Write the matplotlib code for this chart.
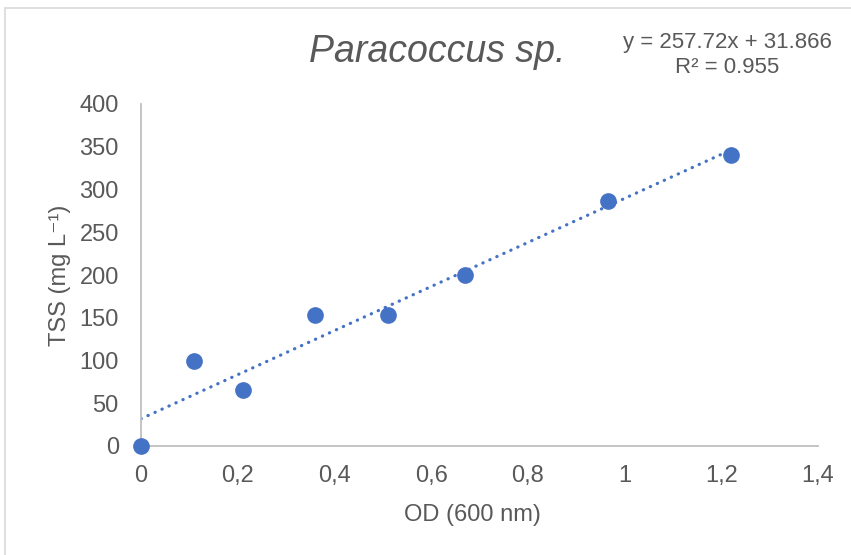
import numpy as np
import matplotlib
matplotlib.use("Agg")
import matplotlib.pyplot as plt
from matplotlib.patches import Rectangle
from matplotlib.ticker import FuncFormatter

plt.rcParams['font.family'] = ['Liberation Sans', 'DejaVu Sans']

# data
od = [0.0, 0.11, 0.21, 0.36, 0.51, 0.67, 0.965, 1.22]
tss = [0, 100, 66, 153, 153, 200, 287, 340]
slope, intercept = 257.72, 31.866
r2 = 0.955

blue = '#4472C4'
grey = '#595959'

fig = plt.figure(figsize=(8.51, 5.55), dpi=100)
ax = fig.add_axes([141 / 851, 1 - 446 / 555, 677 / 851, 342 / 555])

# trendline
xt = np.array([0.0, max(od)])
ax.plot(xt, slope * xt + intercept, color=blue, lw=2.3,
        linestyle=(0, (0.1, 2.3)), dash_capstyle='round', zorder=2)
ax.plot(od, tss, 'o', color=blue, ms=11, zorder=3, clip_on=False)

ax.set_xlim(0, 1.4)
ax.set_ylim(0, 400)
ax.set_xticks(np.arange(0, 1.41, 0.2))
ax.set_yticks(range(0, 401, 50))
ax.xaxis.set_major_formatter(FuncFormatter(lambda v, p: f"{round(v, 1):g}".replace('.', ',')))
ax.tick_params(length=0, labelsize=17, labelcolor=grey)
ax.tick_params(axis='x', pad=14)
ax.tick_params(axis='y', pad=16)

for s in ['top', 'right']:
    ax.spines[s].set_visible(False)
for s in ['left', 'bottom']:
    ax.spines[s].set_color('#BFBFBF')
    ax.spines[s].set_linewidth(1.3)

fig.text(472 / 851, 1 - 515 / 555, 'OD (600 nm)', ha='center', va='center',
         fontsize=17, color=grey)
fig.text(60 / 851, 1 - 275 / 555, 'TSS (mg L⁻¹)', ha='center',
         va='center', rotation=90, fontsize=17, color=grey)
fig.text(437 / 851, 1 - 52 / 555, 'Paracoccus sp.', ha='center', va='center',
         fontsize=27, style='italic', color=grey)
fig.text(727 / 851, 1 - 55 / 555, f'y = {slope}x + {intercept}\nR² = {r2}',
         ha='center', va='center', fontsize=16, color=grey, linespacing=1.25)

# chart area border (partly cut off in the original)
fig.patches.append(Rectangle((5 / 851, -0.1), 1.2, 1 - 8 / 555 + 0.1,
                             transform=fig.transFigure, fill=False,
                             edgecolor='#D9D9D9', lw=1.2))

fig.savefig('out.png', dpi=100)
